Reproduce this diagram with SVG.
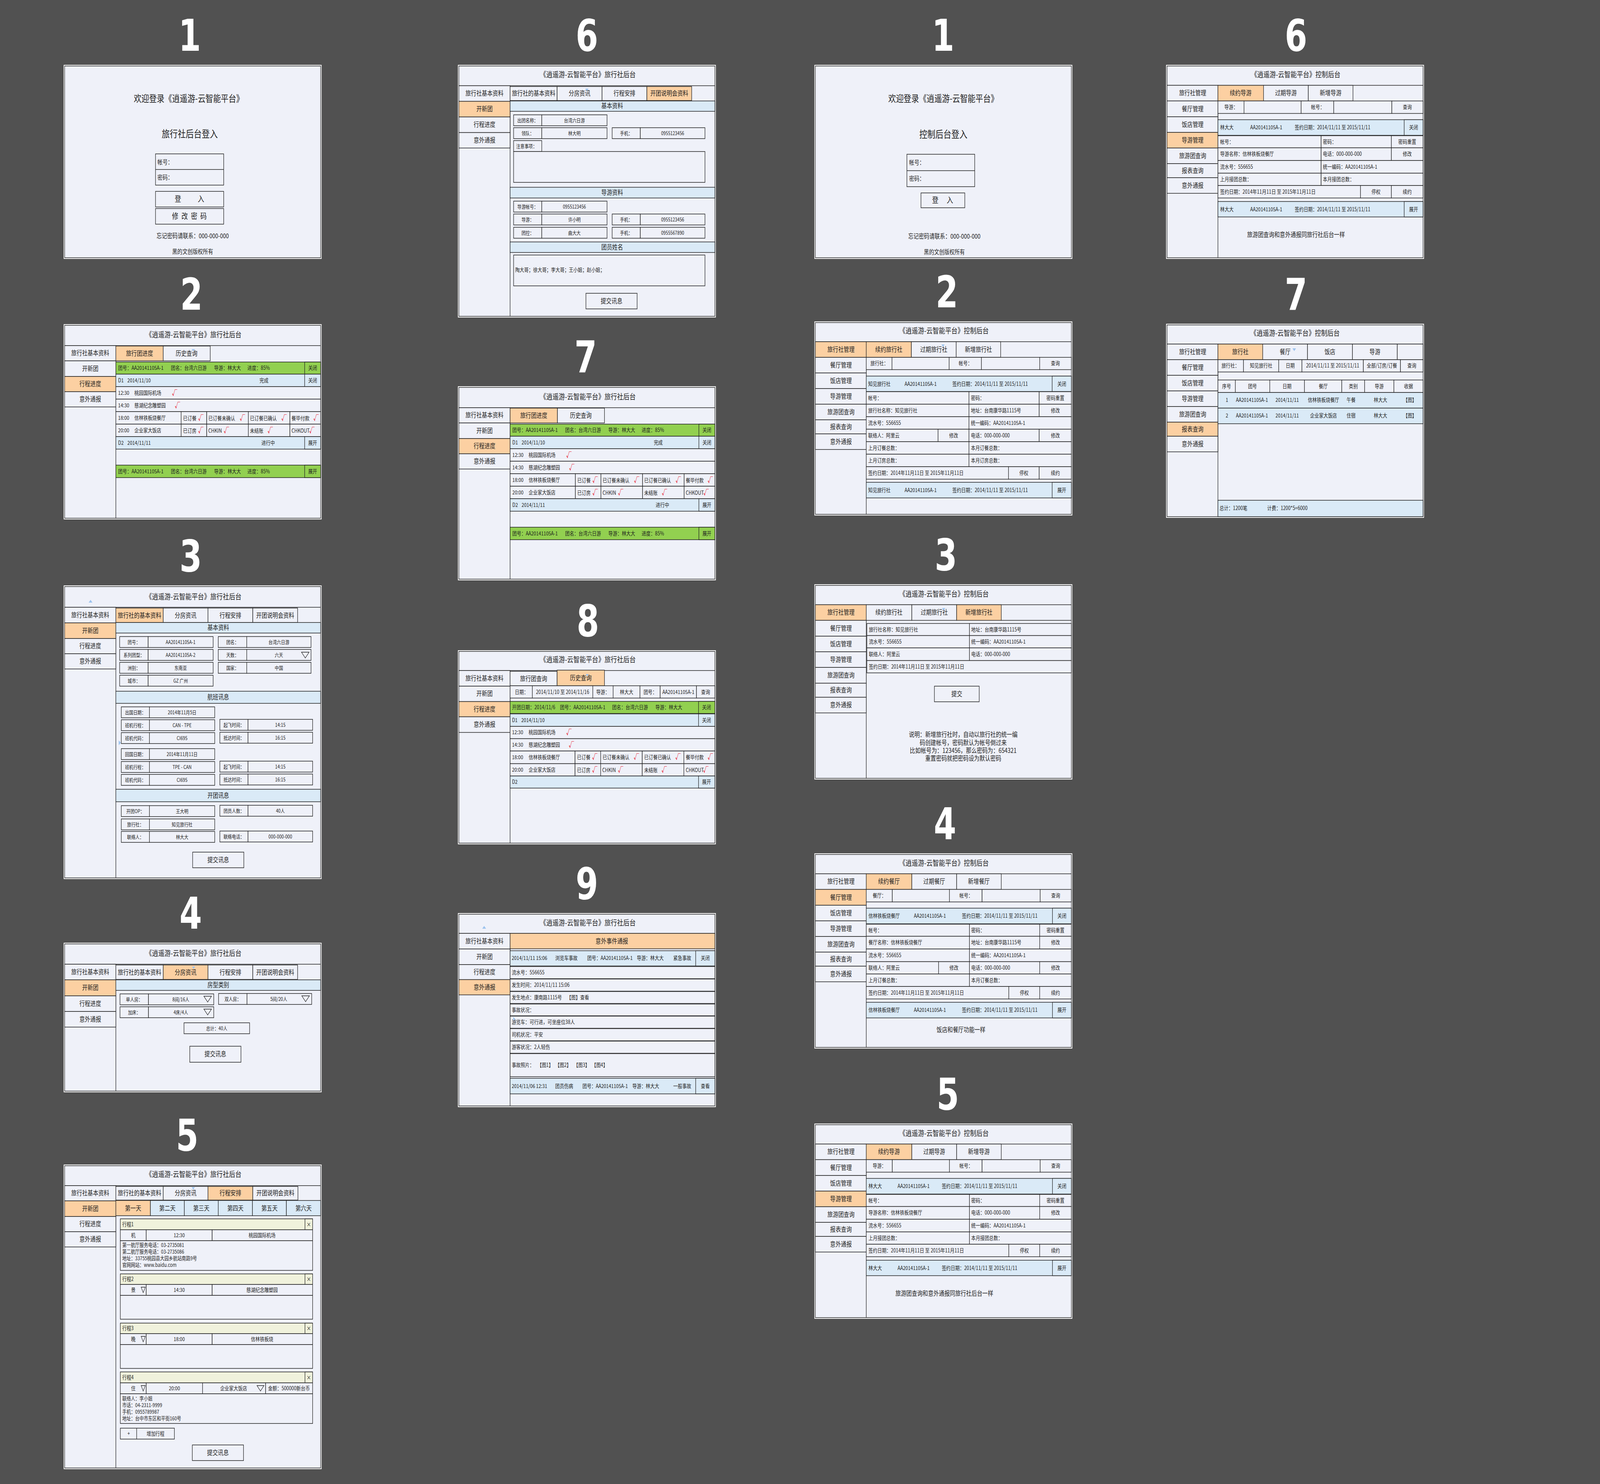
<svg xmlns="http://www.w3.org/2000/svg" width="5000" height="3800" viewBox="0 0 5000 3800" preserveAspectRatio="none">
<defs>
<style>
svg{width:100vw;height:100vh}
.fw{fill:#fff}
.pn{fill:#EFF1F9;stroke:#222;stroke-width:1.5}
.c{fill:#EFF1F9;stroke:#222;stroke-width:1.5}
.o{fill:#FCD0A2;stroke:#222;stroke-width:1.5}
.g{fill:#92D050;stroke:#222;stroke-width:1.5}
.b{fill:#DAEAF7;stroke:#222;stroke-width:1.5}
.y{fill:#F0F2DC;stroke:#222;stroke-width:1.5}
.l{stroke:#222;stroke-width:1.5;fill:none}
.tri{fill:none;stroke:#222;stroke-width:1.3}
.art{fill:#9CC3EE}
text{font-family:"Noto Sans CJK SC","Liberation Sans",sans-serif;fill:#1e1e1e}
.h{font-size:19.5px}
.m{font-size:17px}
.r{font-size:14px}
.f{font-size:13px}
.a{text-anchor:middle}
.k{fill:#e60012;font-size:17px}
.n{fill:#fff;font-family:"Liberation Sans Narrow","DejaVu Sans Condensed","Liberation Sans",sans-serif;font-weight:bold;font-size:112px;text-anchor:middle}
</style>
</defs>
<rect width="5000" height="3800" fill="#515151"/>

<g id="step-numbers">
<text class="n" x="593" y="130">1</text>
<text class="n" x="598" y="793">2</text>
<text class="n" x="596" y="1463">3</text>
<text class="n" x="596" y="2378">4</text>
<text class="n" x="585" y="2946">5</text>
<text class="n" x="1834" y="130">6</text>
<text class="n" x="1830" y="953">7</text>
<text class="n" x="1837" y="1629">8</text>
<text class="n" x="1834" y="2302">9</text>
<text class="n" x="2947" y="130">1</text>
<text class="n" x="2959" y="787">2</text>
<text class="n" x="2956" y="1460">3</text>
<text class="n" x="2953" y="2149">4</text>
<text class="n" x="2962" y="2841">5</text>
<text class="n" x="4050" y="130">6</text>
<text class="n" x="4050" y="793">7</text>
</g>

<g id="connectors"/>

<!-- Column 1, screen 1: agency login -->
<g id="c1p1-agency-login" transform="translate(199,166)">
<rect class="fw" width="806" height="497"/>
<rect class="pn" x="3" y="3" width="800" height="491"/>
<text class="a" x="391" y="95" font-size="24">欢迎登录《逍遥游-云智能平台》</text>
<text class="a" x="394" y="186" font-size="25">旅行社后台登入</text>
<rect class="c" x="287" y="228" width="213" height="80"/>
<line class="l" x1="287" y1="268" x2="500" y2="268"/>
<text x="293" y="255" font-size="16">帐号：</text>
<text x="293" y="294" font-size="16">密码：</text>
<rect class="c" x="287" y="324" width="213" height="40"/>
<text class="a" x="395" y="351" font-size="20" letter-spacing="4">登　　入</text>
<rect class="c" x="287" y="368" width="213" height="40"/>
<text class="a" x="394" y="395" font-size="20" letter-spacing="2.5">修 改 密 码</text>
<text class="a" x="403" y="444" font-size="16.5">忘记密码请联系：000-000-000</text>
<text class="a" x="403" y="484" font-size="16">黑的文创版权所有</text>
</g>

<!-- Column 1, screen 2: travel progress -->
<g id="c1p2-tour-progress" transform="translate(199,830)">
<rect class="fw" width="806" height="500"/>
<rect class="pn" x="3" y="3" width="800" height="494"/>
<text class="h a" x="406" y="34">《逍遥游-云智能平台》旅行社后台</text>
<line class="l" x1="3" y1="55" x2="803" y2="55"/>
<line class="l" x1="163" y1="55" x2="163" y2="497"/>
<rect class="c" x="3" y="55" width="160" height="39"/>
<rect class="c" x="3" y="94" width="160" height="40"/>
<rect class="o" x="3" y="134" width="160" height="39"/>
<rect class="c" x="3" y="173" width="160" height="39"/>
<text class="m a" x="83" y="80">旅行社基本资料</text>
<text class="m a" x="83" y="120">开新团</text>
<text class="m a" x="83" y="159">行程进度</text>
<text class="m a" x="83" y="198">意外通报</text>
<rect class="o" x="163" y="56" width="148" height="38"/>
<rect class="c" x="311" y="56" width="147" height="38"/>
<text class="m a" x="237" y="81">旅行团进度</text>
<text class="m a" x="384" y="81">历史查询</text>
<polygon class="art" points="400,64 410,64 405,70"/>
<rect class="g" x="163" y="97" width="640" height="31"/>
<rect class="g" x="753" y="97" width="50" height="31"/>
<text class="r" x="170" y="117">团号：AA20141105A-1</text>
<text class="r" x="335" y="117">团名：台湾六日游</text>
<text class="r" x="470" y="117">导游：林大大</text>
<text class="r" x="574" y="117">进度：85%</text>
<text class="r a" x="778" y="117">关闭</text>
<rect class="b" x="163" y="128" width="640" height="32"/>
<rect class="b" x="753" y="128" width="50" height="32"/>
<text class="r" x="170" y="149">D1</text>
<text class="r" x="199" y="149">2014/11/10</text>
<text class="r a" x="626" y="149">完成</text>
<text class="r a" x="778" y="149">关闭</text>
<rect class="c" x="163" y="160" width="640" height="32"/>
<text class="r" x="170" y="181">12:30</text>
<text class="r" x="221" y="181">桃园国际机场</text>
<text class="k" x="338" y="182">√</text>
<rect class="c" x="163" y="192" width="640" height="32"/>
<text class="r" x="170" y="213">14:30</text>
<text class="r" x="221" y="213">慈湖纪念雕塑园</text>
<text class="k" x="347" y="214">√</text>
<rect class="c" x="163" y="224" width="204" height="32"/>
<rect class="c" x="367" y="224" width="80" height="32"/>
<rect class="c" x="447" y="224" width="130" height="32"/>
<rect class="c" x="577" y="224" width="130" height="32"/>
<rect class="c" x="707" y="224" width="96" height="32"/>
<text class="r" x="170" y="245">18:00</text>
<text class="r" x="221" y="245">信林铁板烧餐厅</text>
<text class="r" x="373" y="246">已订餐</text><text class="k" x="420" y="246">√</text>
<text class="r" x="452" y="246">已订餐未确认</text><text class="k" x="550" y="246">√</text>
<text class="r" x="582" y="246">已订餐已确认</text><text class="k" x="680" y="246">√</text>
<text class="r" x="712" y="246">餐毕付款</text><text class="k" x="780" y="246">√</text>
<rect class="c" x="163" y="256" width="204" height="32"/>
<rect class="c" x="367" y="256" width="80" height="32"/>
<rect class="c" x="447" y="256" width="130" height="32"/>
<rect class="c" x="577" y="256" width="130" height="32"/>
<rect class="c" x="707" y="256" width="96" height="32"/>
<text class="r" x="170" y="277">20:00</text>
<text class="r" x="221" y="277">企业家大饭店</text>
<text class="r" x="373" y="278">已订房</text><text class="k" x="420" y="278">√</text>
<text class="r" x="452" y="278">CHKIN</text><text class="k" x="500" y="278">√</text>
<text class="r" x="582" y="278">未结账</text><text class="k" x="637" y="278">√</text>
<text class="r" x="712" y="278">CHKOUT</text><text class="k" x="767" y="278">√</text>
<rect class="b" x="163" y="288" width="640" height="32"/>
<rect class="b" x="753" y="288" width="50" height="32"/>
<text class="r" x="170" y="309">D2</text>
<text class="r" x="199" y="309">2014/11/11</text>
<text class="r a" x="639" y="309">进行中</text>
<text class="r a" x="778" y="309">展开</text>
<rect class="g" x="163" y="361" width="640" height="32"/>
<rect class="g" x="753" y="361" width="50" height="32"/>
<text class="r" x="170" y="382">团号：AA20141105A-1</text>
<text class="r" x="335" y="382">团名：台湾六日游</text>
<text class="r" x="470" y="382">导游：林大大</text>
<text class="r" x="574" y="382">进度：85%</text>
<text class="r a" x="778" y="382">展开</text>
</g>

<!-- Column 1, screen 3: new tour basic info -->
<g id="c1p3-new-tour-basic" transform="translate(199,1499)">
<rect class="fw" width="806" height="752"/>
<rect class="pn" x="3" y="3" width="800" height="746"/>
<text class="h a" x="406" y="36">《逍遥游-云智能平台》旅行社后台</text>
<polygon class="art" points="78,44 84,37 90,44"/>
<line class="l" x1="3" y1="56" x2="803" y2="56"/>
<line class="l" x1="163" y1="56" x2="163" y2="749"/>
<rect class="c" x="3" y="56" width="160" height="40"/>
<rect class="o" x="3" y="96" width="160" height="40"/>
<rect class="c" x="3" y="136" width="160" height="39"/>
<rect class="c" x="3" y="175" width="160" height="39"/>
<text class="m a" x="83" y="82">旅行社基本资料</text>
<text class="m a" x="83" y="122">开新团</text>
<text class="m a" x="83" y="161">行程进度</text>
<text class="m a" x="83" y="200">意外通报</text>
<rect class="o" x="163" y="58" width="148" height="37"/>
<rect class="c" x="311" y="58" width="140" height="37"/>
<rect class="c" x="451" y="58" width="140" height="37"/>
<rect class="c" x="591" y="58" width="140" height="37"/>
<text class="m a" x="237" y="83">旅行社的基本资料</text>
<text class="m a" x="381" y="83">分房资讯</text>
<text class="m a" x="521" y="83">行程安排</text>
<text class="m a" x="661" y="83">开团说明会资料</text>
<rect class="b" x="163" y="95" width="640" height="27"/>
<text class="m a" x="483" y="114">基本资料</text>
<rect class="c" x="175" y="131" width="89" height="28"/><rect class="c" x="264" y="131" width="203" height="28"/>
<rect class="c" x="483" y="131" width="89" height="28"/><rect class="c" x="572" y="131" width="201" height="28"/>
<text class="f a" x="219.5" y="150">团号：</text><text class="f a" x="365.5" y="150">AA20141105A-1</text>
<text class="f a" x="527.5" y="150">团名：</text><text class="f a" x="672.5" y="150">台湾六日游</text>
<rect class="c" x="175" y="164" width="89" height="28"/><rect class="c" x="264" y="164" width="203" height="28"/>
<rect class="c" x="483" y="164" width="89" height="28"/><rect class="c" x="572" y="164" width="201" height="28"/>
<text class="f a" x="219.5" y="183">系列团型：</text><text class="f a" x="365.5" y="183">AA20141105A-2</text>
<text class="f a" x="527.5" y="183">天数：</text><text class="f a" x="672.5" y="183">六天</text>
<polygon class="tri" points="743,171 767,171 755,186"/>
<rect class="c" x="175" y="197" width="89" height="28"/><rect class="c" x="264" y="197" width="203" height="28"/>
<rect class="c" x="483" y="197" width="89" height="28"/><rect class="c" x="572" y="197" width="201" height="28"/>
<text class="f a" x="219.5" y="216">洲别：</text><text class="f a" x="365.5" y="216">东南亚</text>
<text class="f a" x="527.5" y="216">国家：</text><text class="f a" x="672.5" y="216">中国</text>
<rect class="c" x="175" y="230" width="89" height="28"/><rect class="c" x="264" y="230" width="203" height="28"/>
<text class="f a" x="219.5" y="249">城市：</text><text class="f a" x="365.5" y="249">GZ 广州</text>
<rect class="b" x="163" y="271" width="640" height="31"/>
<text class="m a" x="483" y="292">航班讯息</text>
<rect class="c" x="180" y="311" width="88" height="28"/><rect class="c" x="268" y="311" width="204" height="28"/>
<text class="f a" x="224" y="330">出国日期：</text><text class="f a" x="370" y="330">2014年11月5日</text>
<rect class="c" x="180" y="344" width="88" height="28"/><rect class="c" x="268" y="344" width="204" height="28"/>
<rect class="c" x="488" y="343" width="88" height="28"/><rect class="c" x="576" y="343" width="202" height="28"/>
<text class="f a" x="224" y="363">班机行程：</text><text class="f a" x="370" y="363">CAN - TPE</text>
<text class="f a" x="532" y="362">起飞时间：</text><text class="f a" x="677" y="362">14:15</text>
<rect class="c" x="180" y="377" width="88" height="28"/><rect class="c" x="268" y="377" width="204" height="28"/>
<rect class="c" x="488" y="376" width="88" height="28"/><rect class="c" x="576" y="376" width="202" height="28"/>
<text class="f a" x="224" y="396">班机代码：</text><text class="f a" x="370" y="396">CI695</text>
<text class="f a" x="532" y="395">抵达时间：</text><text class="f a" x="677" y="395">16:15</text>
<polygon class="art" points="172,397 179,403 172,409"/>
<rect class="c" x="180" y="418" width="88" height="28"/><rect class="c" x="268" y="418" width="204" height="28"/>
<text class="f a" x="224" y="437">回国日期：</text><text class="f a" x="370" y="437">2014年11月11日</text>
<rect class="c" x="180" y="451" width="88" height="28"/><rect class="c" x="268" y="451" width="204" height="28"/>
<rect class="c" x="488" y="450" width="88" height="28"/><rect class="c" x="576" y="450" width="202" height="28"/>
<text class="f a" x="224" y="470">班机行程：</text><text class="f a" x="370" y="470">TPE - CAN</text>
<text class="f a" x="532" y="469">起飞时间：</text><text class="f a" x="677" y="469">14:15</text>
<rect class="c" x="180" y="484" width="88" height="28"/><rect class="c" x="268" y="484" width="204" height="28"/>
<rect class="c" x="488" y="483" width="88" height="28"/><rect class="c" x="576" y="483" width="202" height="28"/>
<text class="f a" x="224" y="503">班机代码：</text><text class="f a" x="370" y="503">CI695</text>
<text class="f a" x="532" y="502">抵达时间：</text><text class="f a" x="677" y="502">16:15</text>
<rect class="b" x="163" y="522" width="640" height="32"/>
<text class="m a" x="483" y="544">开团讯息</text>
<rect class="c" x="180" y="564" width="88" height="28"/><rect class="c" x="268" y="564" width="204" height="28"/>
<rect class="c" x="488" y="563" width="88" height="28"/><rect class="c" x="576" y="563" width="202" height="28"/>
<text class="f a" x="224" y="583">开团OP：</text><text class="f a" x="370" y="583">王大明</text>
<text class="f a" x="532" y="582">团员人数：</text><text class="f a" x="677" y="582">40人</text>
<rect class="c" x="180" y="598" width="88" height="28"/><rect class="c" x="268" y="598" width="204" height="28"/>
<text class="f a" x="224" y="617">旅行社：</text><text class="f a" x="370" y="617">知见旅行社</text>
<rect class="c" x="180" y="630" width="88" height="28"/><rect class="c" x="268" y="630" width="204" height="28"/>
<rect class="c" x="488" y="629" width="88" height="28"/><rect class="c" x="576" y="629" width="202" height="28"/>
<text class="f a" x="224" y="649">联络人：</text><text class="f a" x="370" y="649">林大大</text>
<text class="f a" x="532" y="648">联络电话：</text><text class="f a" x="677" y="648">000-000-000</text>
<rect class="c" x="403" y="683" width="160" height="40"/>
<text class="m a" x="483" y="709">提交讯息</text>
</g>

<!-- Column 1, screen 4: room allocation -->
<g id="c1p4-room-info" transform="translate(199,2414)">
<rect class="fw" width="806" height="383"/>
<rect class="pn" x="3" y="3" width="800" height="377"/>
<text class="h a" x="406" y="34">《逍遥游-云智能平台》旅行社后台</text>
<line class="l" x1="3" y1="55" x2="803" y2="55"/>
<line class="l" x1="163" y1="55" x2="163" y2="380"/>
<rect class="c" x="3" y="55" width="160" height="40"/>
<rect class="o" x="3" y="95" width="160" height="41"/>
<rect class="c" x="3" y="136" width="160" height="40"/>
<rect class="c" x="3" y="176" width="160" height="40"/>
<text class="m a" x="83" y="81">旅行社基本资料</text>
<text class="m a" x="83" y="121.5">开新团</text>
<text class="m a" x="83" y="162">行程进度</text>
<text class="m a" x="83" y="202">意外通报</text>
<rect class="c" x="163" y="57" width="148" height="37"/>
<rect class="o" x="311" y="57" width="140" height="37"/>
<rect class="c" x="451" y="57" width="140" height="37"/>
<rect class="c" x="591" y="57" width="140" height="37"/>
<text class="m a" x="237" y="82">旅行社的基本资料</text>
<text class="m a" x="381" y="82">分房资讯</text>
<text class="m a" x="521" y="82">行程安排</text>
<text class="m a" x="661" y="82">开团说明会资料</text>
<polygon class="art" points="401,61 411,61 406,67"/>
<rect class="b" x="163" y="95" width="640" height="27"/>
<text class="m a" x="483" y="114">房型类别</text>
<rect class="c" x="176" y="131" width="89" height="28"/><rect class="c" x="265" y="131" width="204" height="28"/>
<text class="f a" x="220.5" y="150">单人房：</text><text class="f a" x="366" y="150">8间/16人</text>
<polygon class="tri" points="438,137 462,137 450,152"/>
<rect class="c" x="484" y="130" width="89" height="28"/><rect class="c" x="573" y="130" width="202" height="28"/>
<text class="f a" x="528.5" y="149">双人房：</text><text class="f a" x="672" y="149">5间/20人</text>
<polygon class="tri" points="744,136 768,136 756,151"/>
<rect class="c" x="176" y="164" width="89" height="28"/><rect class="c" x="265" y="164" width="204" height="28"/>
<text class="f a" x="220.5" y="183">加床：</text><text class="f a" x="366" y="183">4床/4人</text>
<polygon class="tri" points="438,170 462,170 450,185"/>
<rect class="c" x="376" y="205" width="205" height="28"/>
<text class="f a" x="478" y="224">总计：40人</text>
<rect class="c" x="394" y="265" width="160" height="41"/>
<text class="m a" x="474" y="291">提交讯息</text>
</g>

<!-- Column 1, screen 5: itinerary -->
<g id="c1p5-itinerary" transform="translate(199,2982)">
<rect class="fw" width="806" height="780"/>
<rect class="pn" x="3" y="3" width="800" height="774"/>
<text class="h a" x="406" y="32">《逍遥游-云智能平台》旅行社后台</text>
<line class="l" x1="3" y1="54" x2="803" y2="54"/>
<line class="l" x1="163" y1="54" x2="163" y2="777"/>
<rect class="c" x="3" y="54" width="160" height="39"/>
<rect class="o" x="3" y="93" width="160" height="40"/>
<rect class="c" x="3" y="133" width="160" height="39"/>
<rect class="c" x="3" y="172" width="160" height="39"/>
<text class="m a" x="83" y="79.5">旅行社基本资料</text>
<text class="m a" x="83" y="119">开新团</text>
<text class="m a" x="83" y="158.5">行程进度</text>
<text class="m a" x="83" y="197.5">意外通报</text>
<rect class="c" x="163" y="56" width="148" height="35"/>
<rect class="c" x="311" y="56" width="140" height="35"/>
<rect class="o" x="451" y="56" width="140" height="35"/>
<rect class="c" x="591" y="56" width="141" height="35"/>
<text class="m a" x="237" y="79.5">旅行社的基本资料</text>
<text class="m a" x="381" y="79.5">分房资讯</text>
<text class="m a" x="521" y="79.5">行程安排</text>
<text class="m a" x="661.5" y="79.5">开团说明会资料</text>
<polygon class="art" points="400,58 410,58 405,64"/>
<rect class="o" x="163" y="92" width="108" height="39"/>
<rect class="b" x="271" y="92" width="106" height="39"/>
<rect class="b" x="377" y="92" width="106" height="39"/>
<rect class="b" x="483" y="92" width="107" height="39"/>
<rect class="b" x="590" y="92" width="106" height="39"/>
<rect class="b" x="696" y="92" width="107" height="39"/>
<text class="m a" x="217" y="118">第一天</text>
<text class="m a" x="324" y="118">第二天</text>
<text class="m a" x="430" y="118">第三天</text>
<text class="m a" x="536.5" y="118">第四天</text>
<text class="m a" x="643" y="118">第五天</text>
<text class="m a" x="749.5" y="118">第六天</text>
<rect class="y" x="177" y="139" width="601" height="28"/>
<rect class="y" x="754" y="139" width="24" height="28"/>
<text class="r" x="183" y="158">行程1</text>
<text class="r a" x="766" y="158">×</text>
<rect class="c" x="177" y="167" width="81" height="28"/>
<rect class="c" x="258" y="167" width="206" height="28"/>
<rect class="c" x="464" y="167" width="314" height="28"/>
<text class="r a" x="217.5" y="186">机</text>
<text class="r a" x="361" y="186">12:30</text>
<text class="r a" x="620" y="186">桃园国际机场</text>
<rect class="c" x="177" y="195" width="601" height="76"/>
<text x="183" y="211" font-size="13.5">第一航厅服务电话：03-2735081</text>
<text x="183" y="228" font-size="13.5">第二航厅服务电话：03-2735086</text>
<text x="183" y="245" font-size="13.5">地址：33755桃园县大园乡航站南路9号</text>
<text x="183" y="262" font-size="13.5">官网网站：www.baidu.com</text>
<rect class="y" x="177" y="280" width="601" height="27"/>
<rect class="y" x="754" y="280" width="24" height="27"/>
<text class="r" x="183" y="298">行程2</text>
<text class="r a" x="766" y="298">×</text>
<rect class="c" x="177" y="307" width="81" height="28"/>
<rect class="c" x="258" y="307" width="206" height="28"/>
<rect class="c" x="464" y="307" width="314" height="28"/>
<text class="r a" x="217.5" y="326">景</text>
<polygon class="tri" points="242,314 255,314 248.5,328"/>
<text class="r a" x="361" y="326">14:30</text>
<text class="r a" x="620" y="326">慈湖纪念雕塑园</text>
<rect class="c" x="177" y="335" width="601" height="61"/>
<rect class="y" x="177" y="406" width="601" height="27"/>
<rect class="y" x="754" y="406" width="24" height="27"/>
<text class="r" x="183" y="424">行程3</text>
<text class="r a" x="766" y="424">×</text>
<rect class="c" x="177" y="433" width="81" height="28"/>
<rect class="c" x="258" y="433" width="206" height="28"/>
<rect class="c" x="464" y="433" width="314" height="28"/>
<text class="r a" x="217.5" y="452">晚</text>
<polygon class="tri" points="242,440 255,440 248.5,454"/>
<text class="r a" x="361" y="452">18:00</text>
<text class="r a" x="620" y="452">信林铁板烧</text>
<rect class="c" x="177" y="461" width="601" height="61"/>
<rect class="y" x="177" y="531" width="601" height="28"/>
<rect class="y" x="754" y="531" width="24" height="28"/>
<text class="r" x="183" y="550">行程4</text>
<text class="r a" x="766" y="550">×</text>
<rect class="c" x="177" y="559" width="81" height="28"/>
<rect class="c" x="258" y="559" width="176" height="28"/>
<rect class="c" x="434" y="559" width="197" height="28"/>
<rect class="c" x="631" y="559" width="147" height="28"/>
<text class="r a" x="217.5" y="578">住</text>
<polygon class="tri" points="242,566 255,566 248.5,580"/>
<text class="r a" x="346" y="578">20:00</text>
<text class="r a" x="531" y="578">企业家大饭店</text>
<polygon class="tri" points="604,566 626,566 615,580"/>
<text class="r a" x="704" y="578">金额：500000新台币</text>
<rect class="c" x="177" y="587" width="601" height="76"/>
<text x="183" y="604" font-size="13.5">联络人：李小姐</text>
<text x="183" y="621" font-size="13.5">市话：04-2311-9999</text>
<text x="183" y="638" font-size="13.5">手机：0955789987</text>
<text x="183" y="655" font-size="13.5">地址：台中市东区和平街160号</text>
<rect class="c" x="177" y="675" width="169" height="28"/>
<line class="l" x1="228" y1="675" x2="228" y2="703"/>
<text class="r a" x="203" y="694">+</text>
<text class="r a" x="287" y="694">增加行程</text>
<rect class="c" x="402" y="718" width="160" height="40"/>
<text class="m a" x="482" y="744">提交讯息</text>
</g>

<!-- Column 2, screen 6: briefing info -->
<g id="c2p6-briefing" transform="translate(1431,166)">
<rect class="fw" width="806" height="647"/>
<rect class="pn" x="3" y="3" width="800" height="641"/>
<text class="h a" x="406" y="32">《逍遥游-云智能平台》旅行社后台</text>
<line class="l" x1="3" y1="53.5" x2="803" y2="53.5"/>
<line class="l" x1="163" y1="53.5" x2="163" y2="644"/>
<rect class="c" x="3" y="53.5" width="160" height="40"/>
<rect class="o" x="3" y="93.5" width="160" height="40"/>
<rect class="c" x="3" y="133.5" width="160" height="40"/>
<rect class="c" x="3" y="173.5" width="160" height="39.5"/>
<text class="m a" x="83" y="79.5">旅行社基本资料</text>
<text class="m a" x="83" y="119.5">开新团</text>
<text class="m a" x="83" y="159.5">行程进度</text>
<text class="m a" x="83" y="199">意外通报</text>
<rect class="c" x="163" y="55.5" width="147" height="36"/>
<rect class="c" x="310" y="55.5" width="140.5" height="36"/>
<rect class="c" x="450.5" y="55.5" width="140" height="36"/>
<rect class="o" x="590.5" y="55.5" width="140" height="36"/>
<text class="m a" x="236.5" y="79.5">旅行社的基本资料</text>
<text class="m a" x="380" y="79.5">分房资讯</text>
<text class="m a" x="520.5" y="79.5">行程安排</text>
<text class="m a" x="660.5" y="79.5">开团说明会资料</text>
<polygon class="art" points="398,61 408,61 403,67"/>
<rect class="b" x="163" y="92.5" width="640" height="26.5"/>
<text class="m a" x="482" y="111">基本资料</text>
<rect class="c" x="174" y="128" width="88" height="28"/><rect class="c" x="262" y="128" width="204" height="28"/>
<text class="f a" x="218" y="147">出团名称：</text><text class="f a" x="364" y="147">台湾六日游</text>
<rect class="c" x="174" y="161" width="88" height="28"/><rect class="c" x="262" y="161" width="204" height="28"/>
<rect class="c" x="482" y="161" width="88" height="28"/><rect class="c" x="570" y="161" width="202" height="28"/>
<text class="f a" x="218" y="180">领队：</text><text class="f a" x="364" y="180">林大明</text>
<text class="f a" x="526" y="180">手机：</text><text class="f a" x="671" y="180">0955123456</text>
<rect class="c" x="174" y="194" width="88" height="28"/>
<text class="f" x="182" y="213">注意事项：</text>
<rect class="c" x="174" y="222" width="598" height="79"/>
<rect class="b" x="163" y="313.5" width="640" height="27.5"/>
<text class="m a" x="482" y="333">导游资料</text>
<rect class="c" x="174" y="349" width="88" height="28"/><rect class="c" x="262" y="349" width="204" height="28"/>
<text class="f a" x="218" y="368">导游帐号：</text><text class="f a" x="364" y="368">0955123456</text>
<rect class="c" x="174" y="382" width="88" height="28"/><rect class="c" x="262" y="382" width="204" height="28"/>
<rect class="c" x="482" y="382" width="88" height="28"/><rect class="c" x="570" y="382" width="202" height="28"/>
<text class="f a" x="218" y="401">导游：</text><text class="f a" x="364" y="401">许小明</text>
<text class="f a" x="526" y="401">手机：</text><text class="f a" x="671" y="401">0955123456</text>
<rect class="c" x="174" y="416" width="88" height="28"/><rect class="c" x="262" y="416" width="204" height="28"/>
<rect class="c" x="482" y="416" width="88" height="28"/><rect class="c" x="570" y="416" width="202" height="28"/>
<text class="f a" x="218" y="435">团控：</text><text class="f a" x="364" y="435">曲大大</text>
<text class="f a" x="526" y="435">手机：</text><text class="f a" x="671" y="435">0955567890</text>
<rect class="b" x="163" y="453.5" width="640" height="27"/>
<text class="m a" x="482" y="473">团员姓名</text>
<rect class="c" x="174" y="487" width="598" height="79"/>
<text class="r" x="179" y="530">陶大哥；徐大哥；李大哥；王小姐；赵小姐；</text>
<rect class="c" x="400" y="585" width="160" height="40"/>
<text class="m a" x="480" y="611">提交讯息</text>
</g>

<!-- Column 2, screen 7: travel progress -->
<g id="c2p7-tour-progress" transform="translate(1431,989)">
<rect class="fw" width="806" height="497"/>
<rect class="pn" x="3" y="3" width="800" height="491"/>
<text class="h a" x="406" y="34">《逍遥游-云智能平台》旅行社后台</text>
<line class="l" x1="3" y1="55" x2="803" y2="55"/>
<line class="l" x1="163" y1="55" x2="163" y2="494"/>
<rect class="c" x="3" y="55" width="160" height="39"/>
<rect class="c" x="3" y="94" width="160" height="40"/>
<rect class="o" x="3" y="134" width="160" height="39"/>
<rect class="c" x="3" y="173" width="160" height="39"/>
<text class="m a" x="83" y="80">旅行社基本资料</text>
<text class="m a" x="83" y="120">开新团</text>
<text class="m a" x="83" y="159">行程进度</text>
<text class="m a" x="83" y="198">意外通报</text>
<rect class="o" x="163" y="56" width="148" height="38"/>
<rect class="c" x="311" y="56" width="147" height="38"/>
<text class="m a" x="237" y="81">旅行团进度</text>
<text class="m a" x="384" y="81">历史查询</text>
<polygon class="art" points="400,64 410,64 405,70"/>
<rect class="g" x="163" y="97" width="640" height="31"/>
<rect class="g" x="753" y="97" width="50" height="31"/>
<text class="r" x="170" y="117">团号：AA20141105A-1</text>
<text class="r" x="335" y="117">团名：台湾六日游</text>
<text class="r" x="470" y="117">导游：林大大</text>
<text class="r" x="574" y="117">进度：85%</text>
<text class="r a" x="778" y="117">关闭</text>
<rect class="b" x="163" y="128" width="640" height="32"/>
<rect class="b" x="753" y="128" width="50" height="32"/>
<text class="r" x="170" y="149">D1</text>
<text class="r" x="199" y="149">2014/11/10</text>
<text class="r a" x="626" y="149">完成</text>
<text class="r a" x="778" y="149">关闭</text>
<rect class="c" x="163" y="160" width="640" height="32"/>
<text class="r" x="170" y="181">12:30</text>
<text class="r" x="221" y="181">桃园国际机场</text>
<text class="k" x="338" y="182">√</text>
<rect class="c" x="163" y="192" width="640" height="32"/>
<text class="r" x="170" y="213">14:30</text>
<text class="r" x="221" y="213">慈湖纪念雕塑园</text>
<text class="k" x="347" y="214">√</text>
<rect class="c" x="163" y="224" width="204" height="32"/>
<rect class="c" x="367" y="224" width="80" height="32"/>
<rect class="c" x="447" y="224" width="130" height="32"/>
<rect class="c" x="577" y="224" width="130" height="32"/>
<rect class="c" x="707" y="224" width="96" height="32"/>
<text class="r" x="170" y="245">18:00</text>
<text class="r" x="221" y="245">信林铁板烧餐厅</text>
<text class="r" x="373" y="246">已订餐</text><text class="k" x="420" y="246">√</text>
<text class="r" x="452" y="246">已订餐未确认</text><text class="k" x="550" y="246">√</text>
<text class="r" x="582" y="246">已订餐已确认</text><text class="k" x="680" y="246">√</text>
<text class="r" x="712" y="246">餐毕付款</text><text class="k" x="780" y="246">√</text>
<rect class="c" x="163" y="256" width="204" height="32"/>
<rect class="c" x="367" y="256" width="80" height="32"/>
<rect class="c" x="447" y="256" width="130" height="32"/>
<rect class="c" x="577" y="256" width="130" height="32"/>
<rect class="c" x="707" y="256" width="96" height="32"/>
<text class="r" x="170" y="277">20:00</text>
<text class="r" x="221" y="277">企业家大饭店</text>
<text class="r" x="373" y="278">已订房</text><text class="k" x="420" y="278">√</text>
<text class="r" x="452" y="278">CHKIN</text><text class="k" x="500" y="278">√</text>
<text class="r" x="582" y="278">未结账</text><text class="k" x="637" y="278">√</text>
<text class="r" x="712" y="278">CHKOUT</text><text class="k" x="767" y="278">√</text>
<rect class="b" x="163" y="288" width="640" height="32"/>
<rect class="b" x="753" y="288" width="50" height="32"/>
<text class="r" x="170" y="309">D2</text>
<text class="r" x="199" y="309">2014/11/11</text>
<text class="r a" x="639" y="309">进行中</text>
<text class="r a" x="778" y="309">展开</text>
<rect class="g" x="163" y="361" width="640" height="32"/>
<rect class="g" x="753" y="361" width="50" height="32"/>
<text class="r" x="170" y="382">团号：AA20141105A-1</text>
<text class="r" x="335" y="382">团名：台湾六日游</text>
<text class="r" x="470" y="382">导游：林大大</text>
<text class="r" x="574" y="382">进度：85%</text>
<text class="r a" x="778" y="382">展开</text>
</g>

<!-- Column 2, screen 8: history query -->
<g id="c2p8-history" transform="translate(1431,1665)">
<rect class="fw" width="806" height="497"/>
<rect class="pn" x="3" y="3" width="800" height="491"/>
<text class="h a" x="406" y="31.5">《逍遥游-云智能平台》旅行社后台</text>
<line class="l" x1="3" y1="52" x2="803" y2="52"/>
<line class="l" x1="163" y1="52" x2="163" y2="494"/>
<rect class="c" x="3" y="52" width="160" height="40"/>
<rect class="c" x="3" y="92" width="160" height="39.5"/>
<rect class="o" x="3" y="131.5" width="160" height="39"/>
<rect class="c" x="3" y="170.5" width="160" height="40"/>
<text class="m a" x="83" y="78">旅行社基本资料</text>
<text class="m a" x="83" y="117.5">开新团</text>
<text class="m a" x="83" y="157">行程进度</text>
<text class="m a" x="83" y="196.5">意外通报</text>
<rect class="c" x="163" y="54" width="147" height="37"/>
<rect class="o" x="310" y="51" width="148" height="40"/>
<text class="m a" x="236.5" y="79">旅行团查询</text>
<text class="m a" x="384" y="77">历史查询</text>
<polygon class="art" points="399,61 409,61 404,67"/>
<rect class="c" x="163" y="91" width="69.5" height="31.5"/>
<rect class="c" x="232.5" y="91" width="189" height="31.5"/>
<rect class="c" x="421.5" y="91" width="63.5" height="31.5"/>
<rect class="c" x="485" y="91" width="84" height="31.5"/>
<rect class="c" x="569" y="91" width="63" height="31.5"/>
<rect class="c" x="632" y="91" width="113.5" height="31.5"/>
<rect class="c" x="745.5" y="91" width="57.5" height="31.5"/>
<text class="r" x="178" y="112">日期：</text>
<text class="r a" x="327" y="112">2014/11/10 至 2014/11/16</text>
<text class="r" x="432" y="112">导游：</text>
<text class="r a" x="527" y="112">林大大</text>
<text class="r" x="580" y="112">团号：</text>
<text class="r a" x="689" y="112">AA20141105A-1</text>
<text class="r a" x="774" y="112">查询</text>
<rect class="g" x="163" y="131" width="640" height="31"/>
<rect class="g" x="752" y="131" width="51" height="31"/>
<text class="r" x="169" y="151">开团日期：2014/11/6</text>
<text class="r" x="319" y="151">团号：AA20141105A-1</text>
<text class="r" x="482" y="151">团名：台湾六日游</text>
<text class="r" x="617" y="151">导游：林大大</text>
<text class="r a" x="777" y="151">关闭</text>
<rect class="b" x="163" y="163" width="640" height="32"/>
<rect class="b" x="752" y="163" width="51" height="32"/>
<text class="r" x="169" y="184">D1</text>
<text class="r" x="198" y="184">2014/11/10</text>
<text class="r a" x="777" y="184">关闭</text>
<rect class="c" x="163" y="195" width="640" height="31.5"/>
<text class="r" x="169" y="215.5">12:30</text>
<text class="r" x="221" y="215.5">桃园国际机场</text>
<text class="k" x="338" y="216">√</text>
<rect class="c" x="163" y="226.5" width="640" height="31.5"/>
<text class="r" x="169" y="247">14:30</text>
<text class="r" x="221" y="247">慈湖纪念雕塑园</text>
<text class="k" x="346" y="248">√</text>
<rect class="c" x="163" y="258" width="203" height="32.5"/>
<rect class="c" x="366" y="258" width="80" height="32.5"/>
<rect class="c" x="446" y="258" width="130" height="32.5"/>
<rect class="c" x="576" y="258" width="130" height="32.5"/>
<rect class="c" x="706" y="258" width="97" height="32.5"/>
<text class="r" x="169" y="279">18:00</text>
<text class="r" x="221" y="279">信林铁板烧餐厅</text>
<text class="r" x="372" y="279">已订餐</text><text class="k" x="419" y="279">√</text>
<text class="r" x="452" y="279">已订餐未确认</text><text class="k" x="549" y="279">√</text>
<text class="r" x="582" y="279">已订餐已确认</text><text class="k" x="679" y="279">√</text>
<text class="r" x="712" y="279">餐毕付款</text><text class="k" x="780" y="279">√</text>
<rect class="c" x="163" y="290.5" width="203" height="31.5"/>
<rect class="c" x="366" y="290.5" width="80" height="31.5"/>
<rect class="c" x="446" y="290.5" width="130" height="31.5"/>
<rect class="c" x="576" y="290.5" width="130" height="31.5"/>
<rect class="c" x="706" y="290.5" width="97" height="31.5"/>
<text class="r" x="169" y="311">20:00</text>
<text class="r" x="221" y="311">企业家大饭店</text>
<text class="r" x="372" y="312">已订房</text><text class="k" x="419" y="312">√</text>
<text class="r" x="451" y="312">CHKIN</text><text class="k" x="500" y="312">√</text>
<text class="r" x="582" y="312">未结账</text><text class="k" x="636" y="312">√</text>
<text class="r" x="712" y="312">CHKOUT</text><text class="k" x="766" y="312">√</text>
<rect class="b" x="163" y="322" width="640" height="31"/>
<rect class="b" x="752" y="322" width="51" height="31"/>
<text class="r" x="169" y="342.5">D2</text>
<text class="r a" x="777" y="342.5">展开</text>
</g>

<!-- Column 2, screen 9: incident report -->
<g id="c2p9-incident" transform="translate(1431,2338)">
<rect class="fw" width="806" height="497"/>
<rect class="pn" x="3" y="3" width="800" height="491"/>
<text class="h a" x="406" y="32">《逍遥游-云智能平台》旅行社后台</text>
<polygon class="art" points="76,40 82,33 88,40"/>
<line class="l" x1="3" y1="52" x2="803" y2="52"/>
<line class="l" x1="163" y1="52" x2="163" y2="494"/>
<rect class="c" x="3" y="52" width="160" height="40"/>
<rect class="c" x="3" y="92" width="160" height="40"/>
<rect class="c" x="3" y="132" width="160" height="38.5"/>
<rect class="o" x="3" y="170.5" width="160" height="39"/>
<text class="m a" x="83" y="78">旅行社基本资料</text>
<text class="m a" x="83" y="118">开新团</text>
<text class="m a" x="83" y="157">行程进度</text>
<text class="m a" x="83" y="196">意外通报</text>
<rect class="o" x="163" y="52" width="640" height="39.5"/>
<text class="m a" x="481" y="78">意外事件通报</text>
<rect class="b" x="163" y="96.5" width="640" height="39"/>
<rect class="b" x="743" y="96.5" width="60" height="39"/>
<text class="r" x="168" y="120.5">2014/11/11 15:06</text>
<text class="r" x="304" y="120.5">浏览车事故</text>
<text class="r" x="404" y="120.5">团号：AA20141105A-1</text>
<text class="r" x="559" y="120.5">导游：林大大</text>
<text class="r" x="673" y="120.5">紧急事故</text>
<text class="r a" x="773" y="120.5">关闭</text>
<rect class="c" x="163" y="137" width="640" height="31"/>
<text class="r" x="168" y="157">流水号：556655</text>
<rect class="c" x="163" y="169" width="640" height="31"/>
<text class="r" x="168" y="189">发生时间：2014/11/11 15:06</text>
<rect class="c" x="163" y="201" width="640" height="30.5"/>
<text class="r" x="168" y="221">发生地点：康南路1115号</text>
<text class="r" x="340" y="221">【图】查看</text>
<rect class="c" x="163" y="233" width="640" height="30"/>
<text class="r" x="168" y="253">事故状况：</text>
<rect class="c" x="163" y="264" width="640" height="31"/>
<text class="r" x="168" y="284.5">游览车：可行进，可坐座位38人</text>
<polygon class="art" points="173,266 179,271 173,276"/>
<rect class="c" x="163" y="296" width="640" height="31"/>
<text class="r" x="168" y="316">司机状况：平安</text>
<rect class="c" x="163" y="328" width="640" height="31"/>
<text class="r" x="168" y="348">游客状况：2人轻伤</text>
<rect class="c" x="163" y="360" width="640" height="59"/>
<text class="r" x="168" y="394">事故照片：</text>
<text class="r" x="248" y="394">【图1】</text>
<text class="r" x="304" y="394">【图2】</text>
<text class="r" x="362" y="394">【图3】</text>
<text class="r" x="418" y="394">【图4】</text>
<rect class="b" x="163" y="423" width="640" height="40"/>
<rect class="b" x="743" y="423" width="60" height="40"/>
<text class="r" x="168" y="448">2014/11/06 12:31</text>
<text class="r" x="304" y="448">团员伤病</text>
<text class="r" x="389" y="448">团号：AA20141105A-1</text>
<text class="r" x="545" y="448">导游：林大大</text>
<text class="r" x="673" y="448">一般事故</text>
<text class="r a" x="773" y="448">查看</text>
</g>

<!-- Column 3, screen 1: control login -->
<g id="c3p1-control-login" transform="translate(2545,166)">
<rect class="fw" width="806" height="497"/>
<rect class="pn" x="3" y="3" width="800" height="491"/>
<text class="a" x="403" y="95" font-size="24">欢迎登录《逍遥游-云智能平台》</text>
<text class="a" x="403" y="187" font-size="25">控制后台登入</text>
<rect class="c" x="289" y="229" width="212" height="83"/>
<line class="l" x1="289" y1="271" x2="501" y2="271"/>
<text x="296" y="256" font-size="16">帐号：</text>
<text x="296" y="297" font-size="16">密码：</text>
<rect class="c" x="333" y="328" width="137" height="38"/>
<text class="a" x="402" y="354" font-size="20" letter-spacing="3">登　入</text>
<text class="a" x="406" y="445" font-size="16.5">忘记密码请联系：000-000-000</text>
<text class="a" x="406" y="485" font-size="16">黑的文创版权所有</text>
</g>

<!-- Column 3, screen 2: agency management -->
<g id="c3p2-agency-renew" transform="translate(2545,823)">
<rect class="fw" width="806" height="497"/>
<rect class="pn" x="3" y="3" width="800" height="491"/>
<text class="h a" x="405" y="31">《逍遥游-云智能平台》控制后台</text>
<line class="l" x1="3" y1="52" x2="803" y2="52"/>
<line class="l" x1="162" y1="52" x2="162" y2="494"/>
<rect class="o" x="3" y="52" width="159" height="40"/>
<rect class="c" x="3" y="92" width="159" height="40"/>
<rect class="c" x="3" y="132" width="159" height="40"/>
<rect class="c" x="3" y="172" width="159" height="40"/>
<rect class="c" x="3" y="212" width="159" height="40"/>
<rect class="c" x="3" y="252" width="159" height="36"/>
<rect class="c" x="3" y="288" width="159" height="40"/>
<text class="m a" x="83" y="78">旅行社管理</text>
<text class="m a" x="83" y="118">餐厅管理</text>
<text class="m a" x="83" y="158">饭店管理</text>
<text class="m a" x="83" y="198">导游管理</text>
<text class="m a" x="83" y="238">旅游团查询</text>
<text class="m a" x="83" y="276">报表查询</text>
<text class="m a" x="83" y="314">意外通报</text>
<rect class="o" x="162" y="52" width="141" height="40"/>
<rect class="c" x="303" y="52" width="140" height="40"/>
<rect class="c" x="443" y="52" width="139" height="40"/>
<text class="m a" x="232.5" y="78">续约旅行社</text>
<text class="m a" x="373" y="78">过期旅行社</text>
<text class="m a" x="512.5" y="78">新增旅行社</text>
<polygon class="art" points="397,59 407,59 402,65"/>
<rect class="c" x="162" y="92" width="80.5" height="31.5"/>
<rect class="c" x="242.5" y="92" width="178.5" height="31.5"/>
<rect class="c" x="421" y="92" width="101" height="31.5"/>
<rect class="c" x="522" y="92" width="182" height="31.5"/>
<rect class="c" x="704" y="92" width="99" height="31.5"/>
<text class="r" x="175" y="112">旅行社：</text>
<text class="r" x="451" y="112">帐号：</text>
<text class="r a" x="753" y="112">查询</text>
<rect class="b" x="162" y="140" width="641" height="39.5"/>
<rect class="b" x="743" y="140" width="60" height="39.5"/>
<text class="r" x="168" y="165">知见旅行社</text>
<text class="r" x="282" y="165">AA20141105A-1</text>
<text class="r" x="431" y="165">签约日期：2014/11/11 至 2015/11/11</text>
<text class="r a" x="773" y="165">关闭</text>
<rect class="c" x="162" y="180" width="321" height="32"/>
<rect class="c" x="483" y="180" width="219.5" height="32"/>
<rect class="c" x="702.5" y="180" width="100.5" height="32"/>
<text class="r" x="168" y="201">帐号：</text>
<text class="r" x="489" y="201">密码：</text>
<text class="r a" x="753" y="201">密码重置</text>
<rect class="c" x="162" y="212" width="321" height="32"/>
<rect class="c" x="483" y="212" width="219.5" height="32"/>
<rect class="c" x="702.5" y="212" width="100.5" height="32"/>
<text class="r" x="168" y="233">旅行社名称：知见旅行社</text>
<text class="r" x="489" y="233">地址：台南康华路1115号</text>
<text class="r a" x="753" y="233">修改</text>
<rect class="c" x="162" y="244" width="321" height="32"/>
<rect class="c" x="483" y="244" width="320" height="32"/>
<text class="r" x="168" y="265">流水号：556655</text>
<text class="r" x="489" y="265">统一编码：AA20141105A-1</text>
<rect class="c" x="162" y="276" width="224.5" height="32"/>
<rect class="c" x="386.5" y="276" width="96.5" height="32"/>
<rect class="c" x="483" y="276" width="219.5" height="32"/>
<rect class="c" x="702.5" y="276" width="100.5" height="32"/>
<text class="r" x="168" y="297">联络人：阿里云</text>
<text class="r a" x="435" y="297">修改</text>
<text class="r" x="489" y="297">电话：000-000-000</text>
<text class="r a" x="753" y="297">修改</text>
<rect class="c" x="162" y="308" width="321" height="32"/>
<rect class="c" x="483" y="308" width="320" height="32"/>
<text class="r" x="168" y="329">上月订餐总数：</text>
<text class="r" x="489" y="329">本月订餐总数：</text>
<rect class="c" x="162" y="340" width="321" height="32"/>
<rect class="c" x="483" y="340" width="320" height="32"/>
<text class="r" x="168" y="361">上月订房总数：</text>
<text class="r" x="489" y="361">本月订房总数：</text>
<rect class="c" x="162" y="372" width="444.5" height="32"/>
<rect class="c" x="606.5" y="372" width="96" height="32"/>
<rect class="c" x="702.5" y="372" width="100.5" height="32"/>
<text class="r" x="168" y="393">签约日期：2014年11月11日 至 2015年11月11日</text>
<text class="r a" x="654.5" y="393">停权</text>
<text class="r a" x="753" y="393">续约</text>
<rect class="b" x="162" y="412" width="641" height="40"/>
<rect class="b" x="743" y="412" width="60" height="40"/>
<text class="r" x="168" y="437">知见旅行社</text>
<text class="r" x="282" y="437">AA20141105A-1</text>
<text class="r" x="431" y="437">签约日期：2014/11/11 至 2015/11/11</text>
<text class="r a" x="773" y="437">展开</text>
</g>

<!-- Column 3, screen 3: new agency -->
<g id="c3p3-agency-new" transform="translate(2545,1496)">
<rect class="fw" width="806" height="500"/>
<rect class="pn" x="3" y="3" width="800" height="494"/>
<text class="h a" x="405" y="32.5">《逍遥游-云智能平台》控制后台</text>
<line class="l" x1="3" y1="52.5" x2="803" y2="52.5"/>
<line class="l" x1="162" y1="52.5" x2="162" y2="497"/>
<rect class="o" x="3" y="52.5" width="159" height="40"/>
<rect class="c" x="3" y="92.5" width="159" height="40.5"/>
<rect class="c" x="3" y="133" width="159" height="40"/>
<rect class="c" x="3" y="173" width="159" height="40"/>
<rect class="c" x="3" y="213" width="159" height="40.5"/>
<rect class="c" x="3" y="253.5" width="159" height="36"/>
<rect class="c" x="3" y="289.5" width="159" height="40"/>
<text class="m a" x="83" y="78.5">旅行社管理</text>
<text class="m a" x="83" y="119">餐厅管理</text>
<text class="m a" x="83" y="159">饭店管理</text>
<text class="m a" x="83" y="199">导游管理</text>
<text class="m a" x="83" y="239.5">旅游团查询</text>
<text class="m a" x="83" y="277.5">报表查询</text>
<text class="m a" x="83" y="315.5">意外通报</text>
<rect class="c" x="162" y="52.5" width="142.5" height="40"/>
<rect class="c" x="304.5" y="52.5" width="140" height="40"/>
<rect class="o" x="444.5" y="52.5" width="139.5" height="40"/>
<line class="l" x1="584" y1="92.5" x2="803" y2="92.5"/>
<text class="m a" x="233" y="78.5">续约旅行社</text>
<text class="m a" x="374.5" y="78.5">过期旅行社</text>
<text class="m a" x="514" y="78.5">新增旅行社</text>
<polygon class="art" points="399,61 409,61 404,67"/>
<rect class="c" x="164" y="100.5" width="320.5" height="31"/>
<rect class="c" x="484.5" y="100.5" width="318.5" height="31"/>
<text class="r" x="170" y="121">旅行社名称：知见旅行社</text>
<text class="r" x="490" y="121">地址：台南康华路1115号</text>
<rect class="c" x="164" y="131.5" width="320.5" height="31.5"/>
<rect class="c" x="484.5" y="131.5" width="318.5" height="31.5"/>
<text class="r" x="170" y="152">流水号：556655</text>
<text class="r" x="490" y="152">统一编码：AA20141105A-1</text>
<rect class="c" x="164" y="163" width="320.5" height="32.5"/>
<rect class="c" x="484.5" y="163" width="318.5" height="32.5"/>
<text class="r" x="170" y="184">联络人：阿里云</text>
<text class="r" x="490" y="184">电话：000-000-000</text>
<rect class="c" x="164" y="195.5" width="639" height="31.5"/>
<text class="r" x="170" y="216">签约日期：2014年11月11日 至 2015年11月11日</text>
<rect class="c" x="375" y="261" width="140" height="40"/>
<text class="m a" x="445" y="287">提交</text>
<text class="m a" x="465" y="391">说明：新增旅行社时，自动以旅行社的统一编</text>
<text class="m a" x="465" y="412">码创建帐号，密码默认为帐号倒过来</text>
<text class="m a" x="465" y="432">比如帐号为：123456，那么密码为：654321</text>
<text class="m a" x="465" y="452">重置密码就把密码设为默认密码</text>
</g>

<!-- Column 3, screen 4: restaurant management -->
<g id="c3p4-restaurant" transform="translate(2545,2185)">
<rect class="fw" width="806" height="500"/>
<rect class="pn" x="3" y="3" width="800" height="494"/>
<text class="h a" x="405" y="32.5">《逍遥游-云智能平台》控制后台</text>
<line class="l" x1="3" y1="52.5" x2="803" y2="52.5"/>
<line class="l" x1="162" y1="52.5" x2="162" y2="497"/>
<rect class="c" x="3" y="52.5" width="159" height="40"/>
<rect class="o" x="3" y="92.5" width="159" height="40.5"/>
<rect class="c" x="3" y="133" width="159" height="40"/>
<rect class="c" x="3" y="173" width="159" height="40"/>
<rect class="c" x="3" y="213" width="159" height="40"/>
<rect class="c" x="3" y="253" width="159" height="36"/>
<rect class="c" x="3" y="289" width="159" height="40"/>
<text class="m a" x="83" y="78.5">旅行社管理</text>
<text class="m a" x="83" y="119">餐厅管理</text>
<text class="m a" x="83" y="159">饭店管理</text>
<text class="m a" x="83" y="199">导游管理</text>
<text class="m a" x="83" y="239">旅游团查询</text>
<text class="m a" x="83" y="277">报表查询</text>
<text class="m a" x="83" y="315">意外通报</text>
<rect class="o" x="162" y="52.5" width="142.5" height="40"/>
<rect class="c" x="304.5" y="52.5" width="140" height="40"/>
<rect class="c" x="444.5" y="52.5" width="139.5" height="40"/>
<text class="m a" x="233" y="78.5">续约餐厅</text>
<text class="m a" x="374.5" y="78.5">过期餐厅</text>
<text class="m a" x="514" y="78.5">新增餐厅</text>
<rect class="c" x="162" y="92.5" width="81.5" height="32"/>
<rect class="c" x="243.5" y="92.5" width="178.5" height="32"/>
<rect class="c" x="422" y="92.5" width="102" height="32"/>
<rect class="c" x="524" y="92.5" width="181.5" height="32"/>
<rect class="c" x="705.5" y="92.5" width="97.5" height="32"/>
<text class="r" x="182" y="113">餐厅：</text>
<text class="r" x="453" y="113">帐号：</text>
<text class="r a" x="754" y="113">查询</text>
<rect class="b" x="162" y="140.5" width="641" height="40"/>
<rect class="b" x="744" y="140.5" width="59" height="40"/>
<text class="r" x="169" y="165.5">信林铁板烧餐厅</text>
<text class="r" x="311" y="165.5">AA20141105A-1</text>
<text class="r" x="461" y="165.5">签约日期：2014/11/11 至 2015/11/11</text>
<text class="r a" x="773.5" y="165.5">关闭</text>
<rect class="c" x="162" y="181.5" width="322.5" height="31"/>
<rect class="c" x="484.5" y="181.5" width="219.5" height="31"/>
<rect class="c" x="704" y="181.5" width="99" height="31"/>
<text class="r" x="169" y="202">帐号：</text>
<text class="r" x="490" y="202">密码：</text>
<text class="r a" x="753.5" y="202">密码重置</text>
<rect class="c" x="162" y="212.5" width="322.5" height="32.5"/>
<rect class="c" x="484.5" y="212.5" width="219.5" height="32.5"/>
<rect class="c" x="704" y="212.5" width="99" height="32.5"/>
<text class="r" x="169" y="233.5">餐厅名称：信林铁板烧餐厅</text>
<text class="r" x="490" y="233.5">地址：台南康华路1115号</text>
<text class="r a" x="753.5" y="233.5">修改</text>
<rect class="c" x="162" y="245" width="322.5" height="32.5"/>
<rect class="c" x="484.5" y="245" width="318.5" height="32.5"/>
<text class="r" x="169" y="266">流水号：556655</text>
<text class="r" x="490" y="266">统一编码：AA20141105A-1</text>
<rect class="c" x="162" y="277.5" width="226" height="31.5"/>
<rect class="c" x="388" y="277.5" width="96.5" height="31.5"/>
<rect class="c" x="484.5" y="277.5" width="219.5" height="31.5"/>
<rect class="c" x="704" y="277.5" width="99" height="31.5"/>
<text class="r" x="169" y="298">联络人：阿里云</text>
<text class="r a" x="436" y="298">修改</text>
<text class="r" x="490" y="298">电话：000-000-000</text>
<text class="r a" x="753.5" y="298">修改</text>
<rect class="c" x="162" y="309" width="322.5" height="32"/>
<rect class="c" x="484.5" y="309" width="318.5" height="32"/>
<text class="r" x="169" y="330">上月订餐总数：</text>
<text class="r" x="490" y="330">本月订餐总数：</text>
<rect class="c" x="162" y="341" width="445.5" height="32"/>
<rect class="c" x="607.5" y="341" width="96.5" height="32"/>
<rect class="c" x="704" y="341" width="99" height="32"/>
<text class="r" x="169" y="362">签约日期：2014年11月11日 至 2015年11月11日</text>
<text class="r a" x="656" y="362">停权</text>
<text class="r a" x="753.5" y="362">续约</text>
<rect class="b" x="162" y="381.5" width="641" height="40"/>
<rect class="b" x="744" y="381.5" width="59" height="40"/>
<text class="r" x="169" y="406.5">信林铁板烧餐厅</text>
<text class="r" x="311" y="406.5">AA20141105A-1</text>
<text class="r" x="461" y="406.5">签约日期：2014/11/11 至 2015/11/11</text>
<text class="r a" x="773.5" y="406.5">展开</text>
<text class="m a" x="458" y="458">饭店和餐厅功能一样</text>
</g>

<!-- Column 3, screen 5: guide management -->
<g id="c3p5-guide" transform="translate(2545,2877)">
<rect class="fw" width="806" height="500"/>
<rect class="pn" x="3" y="3" width="800" height="494"/>
<text class="h a" x="405" y="32.5">《逍遥游-云智能平台》控制后台</text>
<line class="l" x1="3" y1="52.5" x2="803" y2="52.5"/>
<line class="l" x1="162" y1="52.5" x2="162" y2="497"/>
<rect class="c" x="3" y="52.5" width="159" height="40"/>
<rect class="c" x="3" y="92.5" width="159" height="40.5"/>
<rect class="c" x="3" y="133" width="159" height="40"/>
<rect class="o" x="3" y="173" width="159" height="40"/>
<rect class="c" x="3" y="213" width="159" height="40"/>
<rect class="c" x="3" y="253" width="159" height="36"/>
<rect class="c" x="3" y="289" width="159" height="40"/>
<text class="m a" x="83" y="78.5">旅行社管理</text>
<text class="m a" x="83" y="119">餐厅管理</text>
<text class="m a" x="83" y="159">饭店管理</text>
<text class="m a" x="83" y="199">导游管理</text>
<text class="m a" x="83" y="239">旅游团查询</text>
<text class="m a" x="83" y="277">报表查询</text>
<text class="m a" x="83" y="315">意外通报</text>
<rect class="o" x="162" y="52.5" width="142.5" height="40"/>
<rect class="c" x="304.5" y="52.5" width="140" height="40"/>
<rect class="c" x="444.5" y="52.5" width="139.5" height="40"/>
<text class="m a" x="233" y="78.5">续约导游</text>
<text class="m a" x="374.5" y="78.5">过期导游</text>
<text class="m a" x="514" y="78.5">新增导游</text>
<rect class="c" x="162" y="92.5" width="81.5" height="32"/>
<rect class="c" x="243.5" y="92.5" width="178.5" height="32"/>
<rect class="c" x="422" y="92.5" width="102" height="32"/>
<rect class="c" x="524" y="92.5" width="181.5" height="32"/>
<rect class="c" x="705.5" y="92.5" width="97.5" height="32"/>
<text class="r" x="182" y="113">导游：</text>
<text class="r" x="453" y="113">帐号：</text>
<text class="r a" x="754" y="113">查询</text>
<rect class="b" x="162" y="140.5" width="641" height="40"/>
<rect class="b" x="744" y="140.5" width="59" height="40"/>
<text class="r" x="169" y="165.5">林大大</text>
<text class="r" x="260" y="165.5">AA20141105A-1</text>
<text class="r" x="398" y="165.5">签约日期：2014/11/11 至 2015/11/11</text>
<text class="r a" x="773.5" y="165.5">关闭</text>
<rect class="c" x="162" y="181.5" width="322.5" height="31"/>
<rect class="c" x="484.5" y="181.5" width="219.5" height="31"/>
<rect class="c" x="704" y="181.5" width="99" height="31"/>
<text class="r" x="169" y="202">帐号：</text>
<text class="r" x="490" y="202">密码：</text>
<text class="r a" x="753.5" y="202">密码重置</text>
<rect class="c" x="162" y="212.5" width="322.5" height="32.5"/>
<rect class="c" x="484.5" y="212.5" width="219.5" height="32.5"/>
<rect class="c" x="704" y="212.5" width="99" height="32.5"/>
<text class="r" x="169" y="233.5">导游名称：信林铁板烧餐厅</text>
<text class="r" x="490" y="233.5">电话：000-000-000</text>
<text class="r a" x="753.5" y="233.5">修改</text>
<rect class="c" x="162" y="245" width="322.5" height="32.5"/>
<rect class="c" x="484.5" y="245" width="318.5" height="32.5"/>
<text class="r" x="169" y="266">流水号：556655</text>
<text class="r" x="490" y="266">统一编码：AA20141105A-1</text>
<rect class="c" x="162" y="277.5" width="322.5" height="31.5"/>
<rect class="c" x="484.5" y="277.5" width="318.5" height="31.5"/>
<text class="r" x="169" y="298">上月接团总数：</text>
<text class="r" x="490" y="298">本月接团总数：</text>
<rect class="c" x="162" y="309" width="445.5" height="32"/>
<rect class="c" x="607.5" y="309" width="96.5" height="32"/>
<rect class="c" x="704" y="309" width="99" height="32"/>
<text class="r" x="169" y="330">签约日期：2014年11月11日 至 2015年11月11日</text>
<text class="r a" x="656" y="330">停权</text>
<text class="r a" x="753.5" y="330">续约</text>
<rect class="b" x="162" y="350" width="641" height="39.5"/>
<rect class="b" x="744" y="350" width="59" height="39.5"/>
<text class="r" x="169" y="375">林大大</text>
<text class="r" x="260" y="375">AA20141105A-1</text>
<text class="r" x="398" y="375">签约日期：2014/11/11 至 2015/11/11</text>
<text class="r a" x="773.5" y="375">展开</text>
<text class="m a" x="406" y="441">旅游团查询和意外通报同旅行社后台一样</text>
</g>

<!-- Column 4, screen 6: guide management -->
<g id="c4p6-guide" transform="translate(3644,166)">
<rect class="fw" width="806" height="497"/>
<rect class="pn" x="3" y="3" width="800" height="491"/>
<text class="h a" x="405" y="32.5">《逍遥游-云智能平台》控制后台</text>
<line class="l" x1="3" y1="52.5" x2="803" y2="52.5"/>
<line class="l" x1="162" y1="52.5" x2="162" y2="494"/>
<rect class="c" x="3" y="52.5" width="159" height="40"/>
<rect class="c" x="3" y="92.5" width="159" height="40.5"/>
<rect class="c" x="3" y="133" width="159" height="40"/>
<rect class="o" x="3" y="173" width="159" height="40"/>
<rect class="c" x="3" y="213" width="159" height="40"/>
<rect class="c" x="3" y="253" width="159" height="36"/>
<rect class="c" x="3" y="289" width="159" height="40"/>
<text class="m a" x="83" y="78.5">旅行社管理</text>
<text class="m a" x="83" y="119">餐厅管理</text>
<text class="m a" x="83" y="159">饭店管理</text>
<text class="m a" x="83" y="199">导游管理</text>
<text class="m a" x="83" y="239">旅游团查询</text>
<text class="m a" x="83" y="277">报表查询</text>
<text class="m a" x="83" y="315">意外通报</text>
<rect class="o" x="162" y="52.5" width="142.5" height="40"/>
<rect class="c" x="304.5" y="52.5" width="140" height="40"/>
<rect class="c" x="444.5" y="52.5" width="139.5" height="40"/>
<text class="m a" x="233" y="78.5">续约导游</text>
<text class="m a" x="374.5" y="78.5">过期导游</text>
<text class="m a" x="514" y="78.5">新增导游</text>
<rect class="c" x="162" y="92.5" width="81.5" height="32"/>
<rect class="c" x="243.5" y="92.5" width="178.5" height="32"/>
<rect class="c" x="422" y="92.5" width="102" height="32"/>
<rect class="c" x="524" y="92.5" width="181.5" height="32"/>
<rect class="c" x="705.5" y="92.5" width="97.5" height="32"/>
<text class="r" x="182" y="113">导游：</text>
<text class="r" x="453" y="113">帐号：</text>
<text class="r a" x="754" y="113">查询</text>
<rect class="b" x="162" y="140.5" width="641" height="40"/>
<rect class="b" x="744" y="140.5" width="59" height="40"/>
<text class="r" x="169" y="165.5">林大大</text>
<text class="r" x="263" y="165.5">AA20141105A-1</text>
<text class="r" x="402" y="165.5">签约日期：2014/11/11 至 2015/11/11</text>
<text class="r a" x="773.5" y="165.5">关闭</text>
<rect class="c" x="162" y="181.5" width="322.5" height="31"/>
<rect class="c" x="484.5" y="181.5" width="219.5" height="31"/>
<rect class="c" x="704" y="181.5" width="99" height="31"/>
<text class="r" x="169" y="202">帐号：</text>
<text class="r" x="490" y="202">密码：</text>
<text class="r a" x="753.5" y="202">密码重置</text>
<rect class="c" x="162" y="212.5" width="322.5" height="32.5"/>
<rect class="c" x="484.5" y="212.5" width="219.5" height="32.5"/>
<rect class="c" x="704" y="212.5" width="99" height="32.5"/>
<text class="r" x="169" y="233.5">导游名称：信林铁板烧餐厅</text>
<text class="r" x="490" y="233.5">电话：000-000-000</text>
<text class="r a" x="753.5" y="233.5">修改</text>
<rect class="c" x="162" y="245" width="322.5" height="32.5"/>
<rect class="c" x="484.5" y="245" width="318.5" height="32.5"/>
<text class="r" x="169" y="266">流水号：556655</text>
<text class="r" x="490" y="266">统一编码：AA20141105A-1</text>
<rect class="c" x="162" y="277.5" width="322.5" height="31.5"/>
<rect class="c" x="484.5" y="277.5" width="318.5" height="31.5"/>
<text class="r" x="169" y="298">上月接团总数：</text>
<text class="r" x="490" y="298">本月接团总数：</text>
<rect class="c" x="162" y="309" width="445.5" height="32"/>
<rect class="c" x="607.5" y="309" width="96.5" height="32"/>
<rect class="c" x="704" y="309" width="99" height="32"/>
<text class="r" x="169" y="330">签约日期：2014年11月11日 至 2015年11月11日</text>
<text class="r a" x="656" y="330">停权</text>
<text class="r a" x="753.5" y="330">续约</text>
<rect class="b" x="162" y="350" width="641" height="39.5"/>
<rect class="b" x="744" y="350" width="59" height="39.5"/>
<text class="r" x="169" y="375">林大大</text>
<text class="r" x="263" y="375">AA20141105A-1</text>
<text class="r" x="402" y="375">签约日期：2014/11/11 至 2015/11/11</text>
<text class="r a" x="773.5" y="375">展开</text>
<text class="m a" x="406" y="441">旅游团查询和意外通报同旅行社后台一样</text>
</g>

<!-- Column 4, screen 7: reports -->
<g id="c4p7-reports" transform="translate(3644,829)">
<rect class="fw" width="806" height="497"/>
<rect class="pn" x="3" y="3" width="800" height="491"/>
<text class="h a" x="403" y="31">《逍遥游-云智能平台》控制后台</text>
<line class="l" x1="3" y1="52" x2="803" y2="52"/>
<line class="l" x1="162" y1="52" x2="162" y2="494"/>
<rect class="c" x="3" y="52" width="159" height="40"/>
<rect class="c" x="3" y="92" width="159" height="40"/>
<rect class="c" x="3" y="132" width="159" height="40"/>
<rect class="c" x="3" y="172" width="159" height="40"/>
<rect class="c" x="3" y="212" width="159" height="40"/>
<rect class="o" x="3" y="252" width="159" height="36"/>
<rect class="c" x="3" y="288" width="159" height="40"/>
<text class="m a" x="83" y="78">旅行社管理</text>
<text class="m a" x="83" y="118">餐厅管理</text>
<text class="m a" x="83" y="158">饭店管理</text>
<text class="m a" x="83" y="198">导游管理</text>
<text class="m a" x="83" y="238">旅游团查询</text>
<text class="m a" x="83" y="276">报表查询</text>
<text class="m a" x="83" y="314">意外通报</text>
<rect class="o" x="162" y="52" width="140" height="40"/>
<rect class="c" x="302" y="52" width="140" height="40"/>
<rect class="c" x="442" y="52" width="140.5" height="40"/>
<rect class="c" x="582.5" y="52" width="140" height="40"/>
<rect class="c" x="722.5" y="52" width="80.5" height="40"/>
<text class="m a" x="232" y="78">旅行社</text>
<text class="m a" x="372" y="78">餐厅</text>
<text class="m a" x="512" y="78">饭店</text>
<text class="m a" x="652.5" y="78">导游</text>
<polygon class="art" points="395,63 406,63 400.5,70"/>
<rect class="c" x="162" y="92" width="80" height="31.5"/>
<rect class="c" x="242" y="92" width="110" height="31.5"/>
<rect class="c" x="352" y="92" width="72.5" height="31.5"/>
<rect class="c" x="424.5" y="92" width="192" height="31.5"/>
<rect class="c" x="616.5" y="92" width="116" height="31.5"/>
<rect class="c" x="732.5" y="92" width="70.5" height="31.5"/>
<text class="r" x="173" y="112">旅行社：</text>
<text class="r a" x="297" y="112">知见旅行社</text>
<text class="r a" x="388" y="112">日期</text>
<text class="r a" x="520.5" y="112">2014/11/11 至 2015/11/11</text>
<text class="r a" x="674.5" y="112">全部/订房/订餐</text>
<text class="r a" x="768" y="112">查询</text>
<rect class="c" x="162" y="144" width="54.5" height="32"/>
<rect class="c" x="216.5" y="144" width="107.5" height="32"/>
<rect class="c" x="324" y="144" width="108.5" height="32"/>
<rect class="c" x="432.5" y="144" width="116.5" height="32"/>
<rect class="c" x="549" y="144" width="71.5" height="32"/>
<rect class="c" x="620.5" y="144" width="91.5" height="32"/>
<rect class="c" x="712" y="144" width="91" height="32"/>
<text class="r a" x="189" y="165">序号</text>
<text class="r a" x="270" y="165">团号</text>
<text class="r a" x="378" y="165">日期</text>
<text class="r a" x="491" y="165">餐厅</text>
<text class="r a" x="585" y="165">类别</text>
<text class="r a" x="666" y="165">导游</text>
<text class="r a" x="757.5" y="165">收据</text>
<rect class="b" x="162" y="176" width="641" height="40"/>
<text class="r a" x="190" y="200">1</text>
<text class="r a" x="268.5" y="200">AA20141105A-1</text>
<text class="r a" x="378.5" y="200">2014/11/11</text>
<text class="r a" x="492" y="200">信林铁板烧餐厅</text>
<text class="r a" x="578" y="200">午餐</text>
<text class="r a" x="670" y="200">林大大</text>
<text class="r a" x="762" y="200">【图】</text>
<rect class="b" x="162" y="216" width="641" height="40"/>
<text class="r a" x="190" y="240">2</text>
<text class="r a" x="268.5" y="240">AA20141105A-1</text>
<text class="r a" x="378.5" y="240">2014/11/11</text>
<text class="r a" x="492" y="240">企业家大饭店</text>
<text class="r a" x="578" y="240">住宿</text>
<text class="r a" x="670" y="240">林大大</text>
<text class="r a" x="762" y="240">【图】</text>
<rect class="b" x="162" y="452" width="641" height="42"/>
<text class="r" x="167" y="477">总计：1200笔</text>
<text class="r" x="316" y="477">计费：1200*5=6000</text>
</g>
</svg>
